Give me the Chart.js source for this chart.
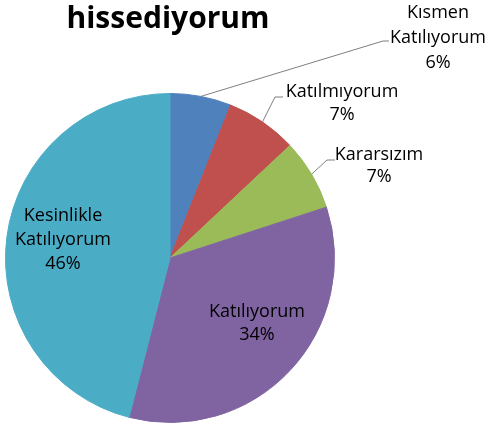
<!DOCTYPE html>
<html>
<head>
<meta charset="utf-8">
<script src="https://cdn.jsdelivr.net/npm/chart.js@4"></script>
<style>
html,body{margin:0;padding:0;background:#fff;}
#wrap{position:relative;width:491px;height:427px;}
</style>
</head>
<body>
<div id="wrap"><canvas id="c"></canvas></div>
<script>
// ---- data ----
const chartTitle = "hissediyorum";
const categories = ["Kısmen Katılıyorum", "Katılmıyorum", "Kararsızım", "Katılıyorum", "Kesinlikle Katılıyorum"];
const values = [6, 7, 7, 34, 46];
const colors = ["#4F81BD", "#C0504D", "#9BBB59", "#8064A2", "#4BACC6"];

// ---- label layout (offsets from pie centre, px) ----
const labelLayout = [
  {wrap: true,  elbow: [213, -217], end: [219, -217], tx: 268, base: [-240, -215, -190]},
  {wrap: false, elbow: [105, -161], end: [113, -161], tx: 172, base: [-161, -138]},
  {wrap: false, elbow: [157, -98],  end: [165, -98],  tx: 209, base: [-98, -76]},
  {wrap: false, tx: 87,  base: [59, 82]},
  {wrap: true,  tx: -107, base: [-37, -13, 11]}
];

const total = values.reduce((a, b) => a + b, 0);

const labelPlugin = {
  id: 'pieLabels',
  afterDatasetsDraw(chart) {
    const ctx = chart.ctx;
    const meta = chart.getDatasetMeta(0);
    ctx.save();
    // title
    ctx.font = "bold 30px 'Open Sans'";
    ctx.fillStyle = "#000";
    ctx.textAlign = "center";
    ctx.textBaseline = "alphabetic";
    const ca = chart.chartArea;
    ctx.fillText(chartTitle, (ca.left + ca.right) / 2 - 2, 28);

    meta.data.forEach((arc, i) => {
      const p = arc.getProps(['x', 'y', 'startAngle', 'endAngle', 'outerRadius'], true);
      const cx = p.x, cy = p.y;
      const lay = labelLayout[i];
      const mid = (p.startAngle + p.endAngle) / 2;
      if (lay.elbow) {
        const px = cx + Math.cos(mid) * p.outerRadius;
        const py = cy + Math.sin(mid) * p.outerRadius;
        ctx.strokeStyle = "#7F7F7F";
        ctx.lineWidth = 1;
        ctx.beginPath();
        ctx.moveTo(px, py);
        ctx.lineTo(cx + lay.elbow[0], cy + lay.elbow[1]);
        ctx.lineTo(cx + lay.end[0], cy + lay.end[1]);
        ctx.stroke();
      }
      const pct = Math.round(values[i] / total * 100) + "%";
      const lines = lay.wrap ? categories[i].split(" ") : [categories[i]];
      lines.push(pct);
      ctx.font = "18px 'Open Sans'";
      ctx.fillStyle = "#000";
      ctx.textAlign = "center";
      ctx.textBaseline = "alphabetic";
      lines.forEach((t, k) => {
        ctx.fillText(t, cx + lay.tx, cy + lay.base[k]);
      });
    });
    ctx.restore();
  }
};

new Chart(document.getElementById('c'), {
  type: 'pie',
  data: {
    labels: categories,
    datasets: [{
      data: values,
      backgroundColor: colors,
      borderColor: colors,
      borderWidth: 1
    }]
  },
  options: {
    responsive: true,
    maintainAspectRatio: false,
    animation: false,
    layout: {padding: {top: 93, left: 5, right: 156, bottom: 4}},
    plugins: {
      legend: {display: false},
      tooltip: {enabled: false},
      title: {display: false}
    }
  },
  plugins: [labelPlugin]
});
</script>
</body>
</html>
